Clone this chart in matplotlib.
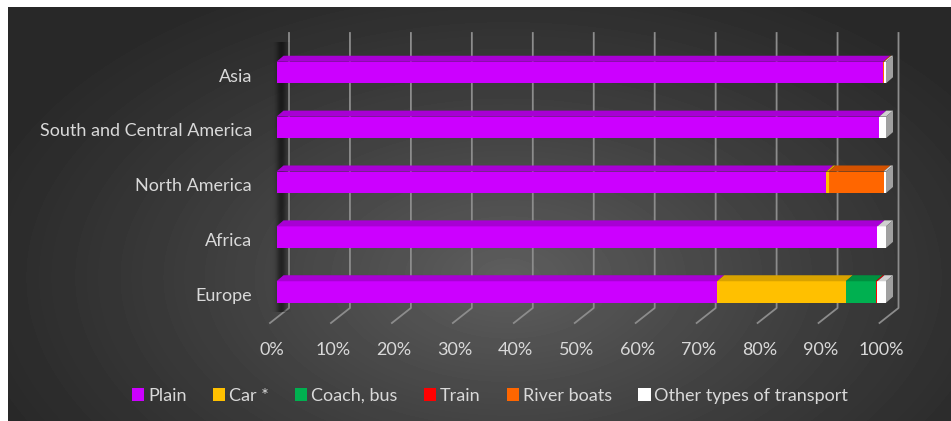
import numpy as np
import matplotlib
matplotlib.use("Agg")
import matplotlib.pyplot as plt
from matplotlib.patches import Polygon, Patch
from matplotlib.transforms import IdentityTransform, offset_copy, blended_transform_factory

# share of each transport mode per region, %
regions = ["Europe", "Africa", "North America", "South and Central America", "Asia"]
modes = ["Plain", "Car *", "Coach, bus", "Train", "River boats", "Other types of transport"]
plain = [72.3, 98.6, 90.2, 98.9, 99.5]
car = [21.1, 0.0, 0.4, 0.0, 0.0]
coach = [4.9, 0.0, 0.0, 0.0, 0.0]
train = [0.3, 0.0, 0.0, 0.0, 0.0]
river = [0.0, 0.0, 9.0, 0.0, 0.2]
other = [1.4, 1.4, 0.4, 1.1, 0.3]
ticks = list(range(0, 101, 10))

front_colors = ["#CC00FF", "#FFC000", "#00B050", "#FF0000", "#FF6600", "#FFFFFF"]
top_colors = ["#A800D4", "#D9A300", "#00903F", "#D00000", "#D45200", "#D0D0D0"]
side_color = "#A0A0A0"
text_color = "#D9D9D9"
grid_color = "#8C8C8C"

plt.rcParams["font.family"] = ["Lato", "DejaVu Sans"]

W, H = 951, 421
fig = plt.figure(figsize=(W / 100, H / 100), dpi=100)
fig.patch.set_facecolor("white")

# dark panel with a soft light in the middle
bg = fig.add_axes([8 / W, 0, (W - 8) / W, (H - 7) / H], zorder=-10)
yy, xx = np.mgrid[0:H - 7, 0:W - 8]
r = np.sqrt(((xx - 500) / 560) ** 2 + ((yy - 270) / 330) ** 2)
shade = 0.16 + 0.21 * np.clip(1 - r, 0, 1) ** 1.2
bg.imshow(shade, cmap="gray", vmin=0, vmax=1, aspect="auto", interpolation="bilinear")
bg.axis("off")

# plot area: front face of the bars, pixel layout
x0, x1 = 276.5, 886.0
yc_first, yc_last = 292.0, 72.5
unit = (yc_first - yc_last) / (len(regions) - 1)
top_px = yc_last - 0.5 * unit
bot_px = yc_first + 0.5 * unit
ax = fig.add_axes([x0 / W, (H - bot_px) / H, (x1 - x0) / W, (bot_px - top_px) / H])
ax.set_xlim(0, 100)
ax.set_ylim(-0.5, len(regions) - 0.5)
ax.axis("off")

idt = IdentityTransform()
dx, dy = 7, 6          # bar depth
wall_dx = 12.5         # back wall behind the bars
floor_dx, floor_dy = -19, -15

# back wall gridlines folding onto the floor
for p in ticks:
    xf = ax.transData.transform((p, 0))[0]
    xb = xf + wall_dx
    ax.plot([xb, xb, xb + floor_dx], [H - 33, H - 308, H - 308 + floor_dy],
            transform=idt, clip_on=False, color=grid_color, lw=1.3, zorder=1)

# shadow along the left wall
sh_x = np.arange(0, 30)
alpha = 0.5 * np.exp(-((sh_x - 20) / 5.0) ** 2)
sh = np.zeros((1, len(sh_x), 4))
sh[0, :, 3] = alpha
ax.imshow(sh, extent=(261, 291, H - 312, H - 42), transform=idt, aspect="auto",
          interpolation="bilinear", zorder=1.5, clip_on=False)
ax.set_xlim(0, 100)
ax.set_ylim(-0.5, len(regions) - 0.5)

y = np.arange(len(regions))
bar_h = 21.5 / unit
series = [plain, car, coach, train, river, other]
left = np.zeros(len(regions))
for vals, fc, tc, name in zip(series, front_colors, top_colors, modes):
    vals = np.array(vals)
    ax.barh(y, vals, left=left, height=bar_h, color=fc, zorder=3, label=name)
    for i in range(len(regions)):
        if vals[i] <= 0:
            continue
        (xl, yb), (xr, yt) = ax.transData.transform(
            [(left[i], y[i] - bar_h / 2), (left[i] + vals[i], y[i] + bar_h / 2)])
        ax.add_patch(Polygon([(xl, yt), (xr, yt), (xr + dx, yt + dy), (xl + dx, yt + dy)],
                             closed=True, facecolor=tc, edgecolor="none",
                             transform=idt, clip_on=False, zorder=4))
    left += vals

# right-hand end caps
for i in range(len(regions)):
    (xr, yb), (_, yt) = ax.transData.transform(
        [(left[i], y[i] - bar_h / 2), (left[i], y[i] + bar_h / 2)])
    ax.add_patch(Polygon([(xr, yb), (xr, yt), (xr + dx, yt + dy), (xr + dx, yb + dy)],
                         closed=True, facecolor=side_color, edgecolor="none",
                         transform=idt, clip_on=False, zorder=4))

# percent labels under the floor
tick_tr = offset_copy(blended_transform_factory(ax.transData, fig.transFigure),
                      fig=fig, x=-4.5, y=0, units="dots")
for p in ticks:
    ax.text(p, (H - 350) / H, f"{p}%", transform=tick_tr, ha="center", va="center",
            color=text_color, fontsize=13, clip_on=False)

# region names
cat_tr = offset_copy(blended_transform_factory(fig.transFigure, ax.transData),
                     fig=fig, x=0, y=-4, units="dots")
for yi, name in zip(y, regions):
    ax.text(252 / W, yi, name, transform=cat_tr, ha="right", va="center",
            color=text_color, fontsize=13, clip_on=False)

handles = [Patch(facecolor=c, edgecolor="none") for c in front_colors]
fig.legend(handles, modes, loc="center", bbox_to_anchor=(490 / W, (H - 396) / H),
           ncol=6, frameon=False, handlelength=0.7, handleheight=0.7,
           handletextpad=0.2, columnspacing=1.45, labelcolor=text_color, fontsize=13)

fig.savefig("out.png", dpi=100)
